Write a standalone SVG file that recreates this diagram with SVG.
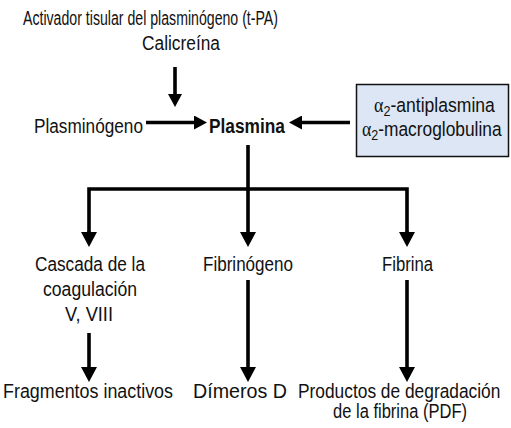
<svg xmlns="http://www.w3.org/2000/svg" width="511" height="428" viewBox="0 0 511 428">
<style>
text{font-family:"Liberation Sans Narrow","Liberation Sans",Arial,sans-serif;font-size:19.5px;fill:#111}
.b{font-weight:bold;font-size:20px}
.g{font-family:"Liberation Serif","Times New Roman",serif;font-size:20px}
.s{font-size:14px}
.ln{stroke:#000;stroke-width:3.6;fill:none}
.box{fill:#dce6f4;stroke:#111;stroke-width:1.5}
</style>
<defs>
<marker id="ah" markerUnits="userSpaceOnUse" markerWidth="16" markerHeight="16" refX="0" refY="8" orient="auto" viewBox="0 0 15 16">
<path d="M0,0 L15,8 L0,16 Z" fill="#000"/>
</marker>
<marker id="ahs" markerUnits="userSpaceOnUse" markerWidth="14" markerHeight="14" refX="0" refY="7" orient="auto" viewBox="0 0 13 14">
<path d="M0,0 L13,7 L0,14 Z" fill="#000"/>
</marker>
</defs>
<rect width="511" height="428" fill="#fff"/>
<g id="activador">
<text x="23" y="25" textLength="255" lengthAdjust="spacingAndGlyphs">Activador tisular del plasminógeno (t-PA)</text>
<text x="142" y="50" textLength="78" lengthAdjust="spacingAndGlyphs">Calicreína</text>
</g>
<g id="plasminogeno"><text x="34" y="133" textLength="109" lengthAdjust="spacingAndGlyphs">Plasminógeno</text></g>
<g id="plasmina"><text class="b" x="209" y="133" textLength="76" lengthAdjust="spacingAndGlyphs">Plasmina</text></g>
<g id="inhibidores">
<rect class="box" x="356.5" y="84.5" width="152" height="72"/>
<text transform="translate(374,112) scale(0.9,1)"><tspan class="g">α</tspan><tspan class="s" dy="4">2</tspan><tspan dy="-4">-antiplasmina</tspan></text>
<text transform="translate(362,136) scale(0.89,1)"><tspan class="g">α</tspan><tspan class="s" dy="4">2</tspan><tspan dy="-4">-macroglobulina</tspan></text>
</g>
<g id="cascada">
<text x="35" y="271" textLength="110" lengthAdjust="spacingAndGlyphs">Cascada de la</text>
<text x="43" y="296" textLength="94" lengthAdjust="spacingAndGlyphs">coagulación</text>
<text x="65" y="321" textLength="48" lengthAdjust="spacingAndGlyphs">V, VIII</text>
</g>
<g id="fibrinogeno"><text x="203" y="271" textLength="90" lengthAdjust="spacingAndGlyphs">Fibrinógeno</text></g>
<g id="fibrina"><text x="382" y="271" textLength="51" lengthAdjust="spacingAndGlyphs">Fibrina</text></g>
<g id="fragmentos"><text x="3" y="398" textLength="170" lengthAdjust="spacingAndGlyphs">Fragmentos inactivos</text></g>
<g id="dimeros"><text x="193" y="398" textLength="94" lengthAdjust="spacingAndGlyphs">Dímeros D</text></g>
<g id="pdf">
<text transform="translate(298,398) scale(0.89,1)">Productos de degradación</text>
<text x="333" y="418" textLength="134" lengthAdjust="spacingAndGlyphs">de la fibrina (PDF)</text>
</g>
<g id="connectors">
<path class="ln" d="M175,67 V94" marker-end="url(#ahs)"/>
<path class="ln" d="M146,122.5 H194" marker-end="url(#ahs)"/>
<path class="ln" d="M350,122.5 H302" marker-end="url(#ahs)"/>
<path class="ln" d="M248,145 V189"/>
<path class="ln" d="M89,232 V189 H407 V232"/>
<path class="ln" d="M89,231 V232" marker-end="url(#ah)"/>
<path class="ln" d="M248,189 V232" marker-end="url(#ah)"/>
<path class="ln" d="M407,231 V232" marker-end="url(#ah)"/>
<path class="ln" d="M89,333 V367" marker-end="url(#ah)"/>
<path class="ln" d="M248,280 V367" marker-end="url(#ah)"/>
<path class="ln" d="M407,280 V367" marker-end="url(#ah)"/>
</g>
</svg>
